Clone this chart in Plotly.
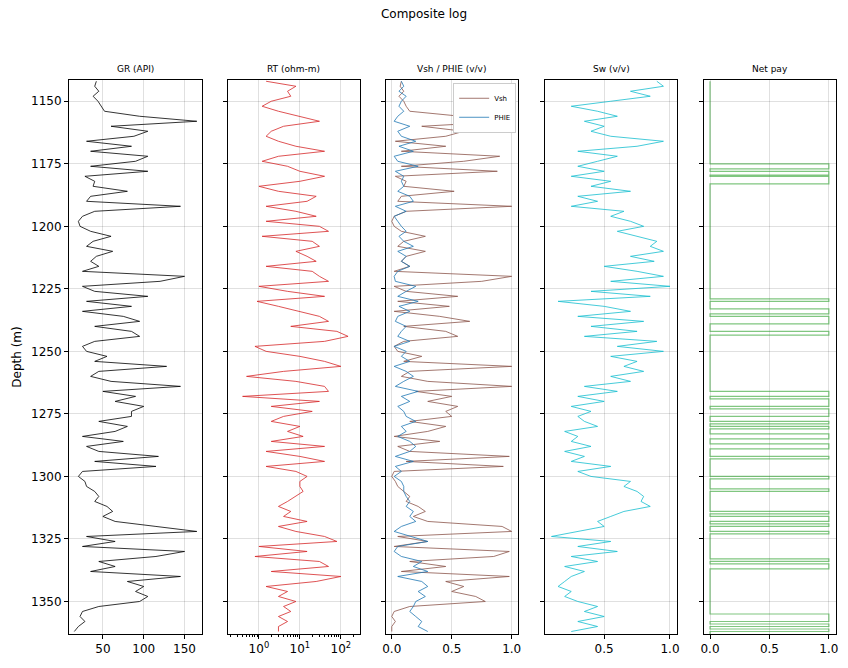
import plotly.graph_objects as go

# depth samples every 2 m (1142 .. 1362)
depth = list(range(1142, 1364, 2))

gr = [42, 40, 45, 38, 44, 48, 52, 95, 165, 60,
      105, 88, 30, 85, 35, 105, 90, 35, 105, 28,
      40, 38, 80, 35, 30, 145, 40, 25, 20, 22,
      35, 60, 38, 30, 62, 42, 35, 45, 25, 150,
      120, 25, 40, 105, 30, 85, 25, 75, 95, 40,
      85, 95, 40, 25, 30, 55, 40, 128, 45, 35,
      60, 145, 50, 90, 65, 100, 85, 85, 45, 80,
      65, 25, 75, 30, 45, 118, 40, 115, 25, 20,
      28, 30, 40, 45, 40, 55, 62, 50, 65, 115,
      165, 30, 65, 25, 150, 115, 45, 65, 35, 145,
      80, 100, 90, 105, 95, 45, 25, 22, 28, 20,
      15]

rt = [1.5, 8, 5, 6, 2, 1.2, 3, 10, 30, 4,
      2, 1.5, 3, 8, 40, 3, 1.2, 5, 10, 40,
      10, 1, 3, 25, 15, 1.5, 8, 25, 1.5, 30,
      50, 1.2, 20, 30, 8, 15, 25, 1.5, 20, 30,
      50, 1, 5, 40, 0.9, 3, 10, 30, 50, 6,
      80, 150, 40, 0.8, 1.5, 10, 40, 100, 4, 0.5,
      8, 40, 50, 0.4, 30, 2, 20, 4, 2, 10,
      5, 12, 2, 40, 1.5, 10, 40, 1.5, 8, 15,
      10, 10, 12, 8, 5, 3, 6, 4, 15, 3,
      8, 40, 80, 1.0, 15, 0.8, 30, 50, 2, 100,
      25, 1.5, 5, 3, 8, 4, 6, 3, 5, 3,
      3]

vsh = [0.08, 0.07, 0.1, 0.06, 0.1, 0.12, 0.15, 0.55, 1.0, 0.25,
       0.6, 0.45, 0.03, 0.45, 0.08, 0.9, 0.6, 0.08, 0.88, 0.03,
       0.12, 0.1, 0.52, 0.08, 0.05, 1.0, 0.12, 0.02, 0.0, 0.02,
       0.08, 0.28, 0.1, 0.05, 0.28, 0.12, 0.08, 0.15, 0.02, 1.0,
       0.75, 0.02, 0.12, 0.55, 0.05, 0.48, 0.02, 0.4, 0.65, 0.1,
       0.45, 0.55, 0.1, 0.02, 0.05, 0.25, 0.1, 1.0, 0.15, 0.08,
       0.3, 1.0, 0.2, 0.5, 0.3, 0.55, 0.45, 0.5, 0.15, 0.45,
       0.3, 0.02, 0.4, 0.05, 0.15, 0.98, 0.12, 0.93, 0.02, 0.0,
       0.03, 0.05, 0.1, 0.15, 0.12, 0.22, 0.28, 0.18, 0.3, 0.92,
       1.0, 0.05, 0.3, 0.02, 0.98, 0.85, 0.15, 0.45, 0.08, 0.98,
       0.45, 0.6, 0.5, 0.7, 0.78, 0.15, 0.02, 0.0, 0.03, 0.0,
       0.0]

phie = [0.08, 0.1, 0.06, 0.12, 0.08, 0.06, 0.1, 0.05, 0.02, 0.15,
        0.05, 0.08, 0.2, 0.06, 0.18, 0.02, 0.05, 0.22, 0.03, 0.1,
        0.08, 0.1, 0.05, 0.15, 0.18, 0.03, 0.12, 0.02, 0.05, 0.08,
        0.12, 0.06, 0.1, 0.18, 0.05, 0.12, 0.08, 0.15, 0.05, 0.02,
        0.03, 0.2, 0.12, 0.05, 0.22, 0.06, 0.15, 0.05, 0.03, 0.12,
        0.08, 0.05, 0.15, 0.02, 0.12, 0.08, 0.15, 0.02, 0.12, 0.18,
        0.1, 0.03, 0.22, 0.08, 0.15, 0.05, 0.1, 0.12, 0.2, 0.08,
        0.12, 0.05, 0.15, 0.2, 0.15, 0.03, 0.18, 0.03, 0.08, 0.02,
        0.08, 0.1, 0.1, 0.12, 0.15, 0.12, 0.18, 0.15, 0.2, 0.08,
        0.02, 0.15, 0.3, 0.05, 0.02, 0.08, 0.25, 0.18, 0.3, 0.05,
        0.25, 0.3, 0.22, 0.28, 0.2, 0.18, 0.15, 0.2, 0.25, 0.22,
        0.3]

sw = [0.9, 0.95, 0.7, 0.85, 0.55, 0.25, 0.45, 0.6, 0.35, 0.5,
      0.4, 0.55, 0.95, 0.75, 0.3, 0.6, 0.45, 0.3, 0.5, 0.25,
      0.55, 0.4, 0.7, 0.3, 0.45, 0.25, 0.65, 0.55, 0.7, 0.8,
      0.6, 0.75, 0.9, 0.85, 0.95, 0.7, 0.88, 0.5, 0.75, 0.95,
      0.55, 1.0, 0.4, 0.85, 0.15, 0.5, 0.7, 0.3, 0.8, 0.4,
      0.75, 0.35, 0.9, 0.6, 0.95, 0.55, 0.75, 0.65, 0.8, 0.55,
      0.7, 0.35, 0.6, 0.3, 0.5, 0.25, 0.4, 0.3, 0.35, 0.45,
      0.2, 0.3, 0.25, 0.4, 0.2, 0.35, 0.25, 0.55, 0.3, 0.4,
      0.7, 0.65, 0.75, 0.8, 0.78, 0.85, 0.65, 0.55, 0.45, 0.5,
      0.3, 0.1, 0.55, 0.3, 0.6, 0.25, 0.45, 0.2, 0.35, 0.25,
      0.2, 0.15, 0.25, 0.2, 0.3, 0.45, 0.35, 0.5, 0.3, 0.45,
      0.25]

# net pay intervals (top, bottom) in m
pay_top = [1175, 1178, 1180, 1229, 1233, 1236, 1242, 1266, 1269, 1273, 1278, 1280,
           1283, 1287, 1292, 1300, 1305, 1314, 1316, 1319, 1322, 1333, 1335, 1355,
           1359, 1361]
pay_bot = [1177, 1179.5, 1183, 1230, 1235, 1239, 1243.5, 1268, 1272, 1276, 1279, 1281,
           1285, 1289, 1293, 1301, 1306, 1315, 1318, 1320, 1323, 1334, 1337, 1358,
           1360, 1362]

depth_ticks = [1150, 1175, 1200, 1225, 1250, 1275, 1300, 1325, 1350]
titles = ["GR (API)", "RT (ohm-m)", "Vsh / PHIE (v/v)", "Sw (v/v)", "Net pay"]

# step curve for net pay flag
pay_x, pay_y = [0], [1142]
for t, b in zip(pay_top, pay_bot):
    pay_x += [0, 1, 1, 0]
    pay_y += [t, t, b, b]
pay_x.append(0)
pay_y.append(1363)

domains = [(0.0, 0.173), (0.207, 0.379), (0.413, 0.585), (0.621, 0.793), (0.828, 1.0)]

fig = go.Figure()
lw = 0.8
fig.add_trace(go.Scatter(x=gr, y=depth, mode="lines", line=dict(color="black", width=lw),
                         xaxis="x", yaxis="y", showlegend=False))
fig.add_trace(go.Scatter(x=rt, y=depth, mode="lines", line=dict(color="#d62728", width=lw),
                         xaxis="x2", yaxis="y2", showlegend=False))
fig.add_trace(go.Scatter(x=vsh, y=depth, mode="lines", name="Vsh",
                         line=dict(color="#8c564b", width=lw), xaxis="x3", yaxis="y3"))
fig.add_trace(go.Scatter(x=phie, y=depth, mode="lines", name="PHIE",
                         line=dict(color="#1f77b4", width=lw), xaxis="x3", yaxis="y3"))
fig.add_trace(go.Scatter(x=sw, y=depth, mode="lines", line=dict(color="#17becf", width=lw),
                         xaxis="x4", yaxis="y4", showlegend=False))
fig.add_trace(go.Scatter(x=pay_x, y=pay_y, mode="lines",
                         line=dict(color="rgba(44,160,44,0.6)", width=1.2),
                         xaxis="x5", yaxis="y5", showlegend=False))

axis_common = dict(showline=True, linecolor="black", linewidth=1, mirror=True,
                   ticks="outside", ticklen=4, tickcolor="black",
                   showgrid=True, gridcolor="rgba(0,0,0,0.12)", zeroline=False,
                   tickfont=dict(size=12, color="black"))

layout = dict(
    width=848, height=668,
    margin=dict(l=69, r=12, t=80, b=34, autoexpand=False),
    plot_bgcolor="white", paper_bgcolor="white",
    font=dict(family="DejaVu Sans", color="black"),
    title=dict(text="Composite log", x=0.5, xanchor="center", y=0.985, font=dict(size=12)),
    legend=dict(x=0.583, xanchor="right", y=0.995, yanchor="top",
                font=dict(size=7), itemwidth=30, tracegroupgap=0,
                bgcolor="white", bordercolor="#ccc", borderwidth=1),
)
layout["yaxis"] = dict(range=[1363, 1141.5], domain=[0, 1], anchor="x",
                       title=dict(text="Depth (m)", font=dict(size=12), standoff=6),
                       tickvals=depth_ticks, **axis_common)
for i in range(2, 6):
    layout[f"yaxis{i}"] = dict(matches="y", range=[1363, 1141.5], domain=[0, 1],
                               anchor=f"x{i}", showticklabels=False,
                               tickvals=depth_ticks, **axis_common)

layout["xaxis"] = dict(domain=domains[0], range=[8.5, 171], anchor="y",
                       tickvals=[50, 100, 150], **axis_common)
minor_rt = [v * m for m in (0.1, 1, 10) for v in range(2, 10)] + [200]
layout["xaxis2"] = dict(domain=domains[1], type="log", range=[-0.76, 2.46], anchor="y2",
                        tickvals=[1, 10, 100],
                        ticktext=["10<sup>0</sup>", "10<sup>1</sup>", "10<sup>2</sup>"],
                        minor=dict(tickvals=minor_rt, ticks="outside", ticklen=2,
                                   tickcolor="black", showgrid=False),
                        **axis_common)
layout["xaxis3"] = dict(domain=domains[2], range=[-0.05, 1.05], anchor="y3",
                        tickvals=[0, 0.5, 1], ticktext=["0.0", "0.5", "1.0"], **axis_common)
layout["xaxis4"] = dict(domain=domains[3], range=[0.053, 1.055], anchor="y4",
                        tickvals=[0.5, 1], ticktext=["0.5", "1.0"], **axis_common)
layout["xaxis5"] = dict(domain=domains[4], range=[-0.05, 1.06], anchor="y5",
                        tickvals=[0, 0.5, 1], ticktext=["0.0", "0.5", "1.0"], **axis_common)
fig.update_layout(**layout)

for (d0, d1), t in zip(domains, titles):
    fig.add_annotation(text=t, x=(d0 + d1) / 2, y=1.0, xref="paper", yref="paper",
                       xanchor="center", yanchor="bottom", yshift=4, showarrow=False,
                       font=dict(size=9))

fig.write_html("out.html", config={"displayModeBar": False},
               post_script="document.body.style.margin='0';")
